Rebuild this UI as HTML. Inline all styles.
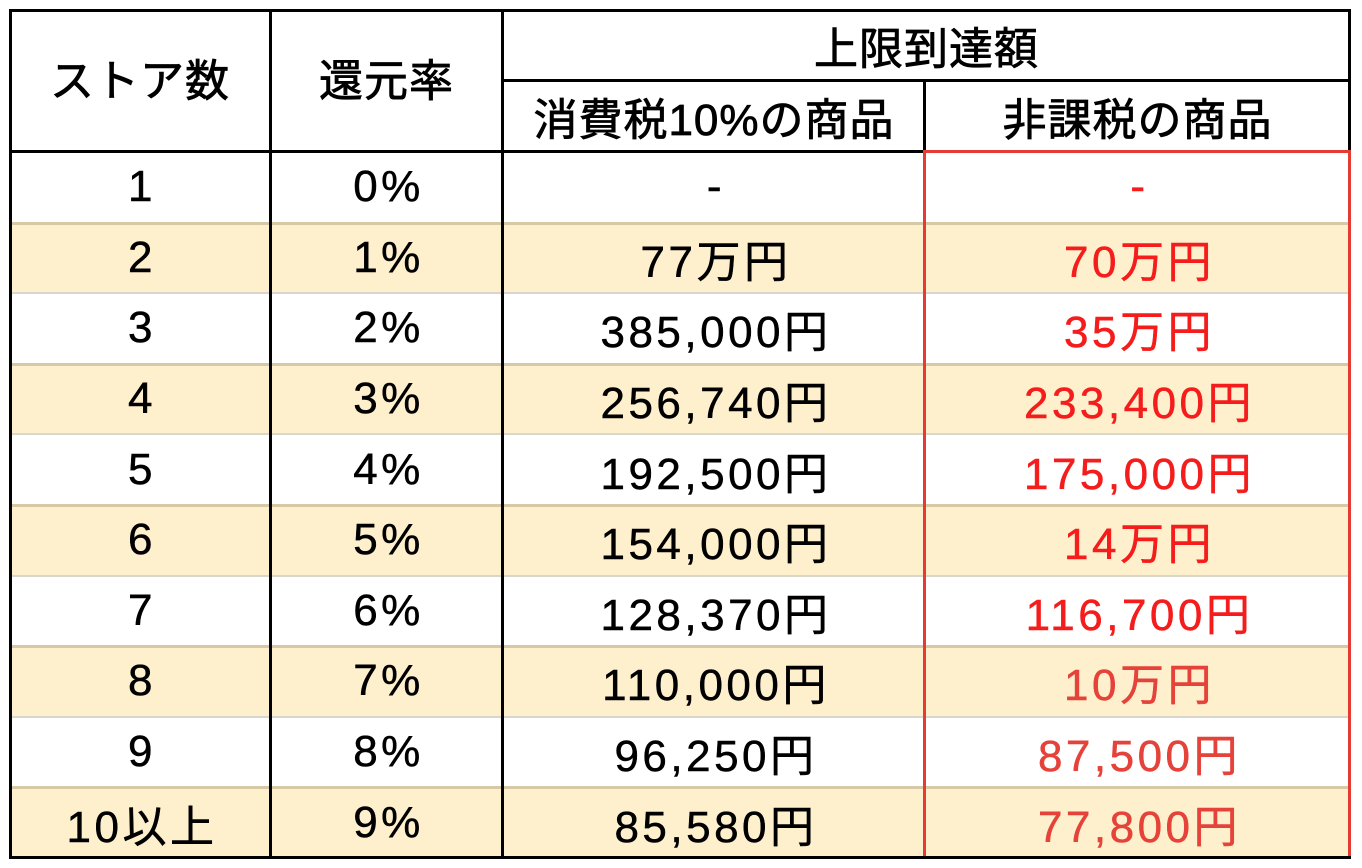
<!DOCTYPE html>
<html><head><meta charset="utf-8"><style>
body{margin:0;width:1362px;height:868px;background:#fff;overflow:hidden;font-family:"Liberation Sans","Noto Sans CJK JP",sans-serif;}
.a{position:absolute;}
.t{position:absolute;display:flex;align-items:center;justify-content:center;font-size:44px;letter-spacing:3.5px;color:#000;-webkit-text-stroke:0.5px currentColor;}
.h{font-size:44px;letter-spacing:1px;-webkit-text-stroke:0.8px currentColor;}
.r{color:#f51c1c;}
.r2{color:#e5423a;}
</style></head><body>
<div id="c"></div>
<script>
var c=document.getElementById('c');var s='';
function box(x,y,w,h,bg){s+='<div class="a" style="left:'+x+'px;top:'+y+'px;width:'+w+'px;height:'+h+'px;background:'+bg+'"></div>';}
function txt(x,y,w,h,t,cl){s+='<div class="t '+(cl||'')+'" style="left:'+x+'px;top:'+y+'px;width:'+w+'px;height:'+h+'px">'+t+'</div>';}
var data=[["1","0%","-","-","r"],["2","1%","77万円","70万円","r"],["3","2%","385,000円","35万円","r"],["4","3%","256,740円","233,400円","r"],["5","4%","192,500円","175,000円","r"],["6","5%","154,000円","14万円","r"],["7","6%","128,370円","116,700円","r"],["8","7%","110,000円","10万円","r2"],["9","8%","96,250円","87,500円","r2"],["10以上","9%","85,580円","77,800円","r2"]];
var top0=152,rh=70.6;
for(var i=0;i<10;i++){
 var y=top0+i*rh;
 if(i%2==1){box(10,y,1340,rh,'#fef0cc');box(10,y-1,1340,3,'#d8c9a6');box(10,y+rh-1,1340,2,'#d9d6cc');}
}
for(var i=0;i<10;i++){
 var y=top0+i*rh,d=data[i];
 txt(12,y,260,rh,d[0]);txt(272,y,233,rh,d[1]);txt(505,y,422,rh,d[2]);txt(927,y,425,rh,d[3],d[4]);
}
box(9,9,1342,3,'#000');box(9,856,1342,3,'#000');box(9,9,3,850,'#000');box(1348,9,3,150,'#000');
box(269,9,3,850,'#000');box(501,9,3,850,'#000');
box(501,79,850,3,'#000');box(923,79,3,73,'#000');
box(9,150,916,3,'#000');
box(923,150,428,3,'#e53b33');box(923,150,3,706,'#e53b33');box(1348,150,3,706,'#e53b33');
txt(10,6,260,141,'ストア数','h');txt(270,6,233,141,'還元率','h');
txt(503,10,847,70,'上限到達額','h');
txt(503,80,422,71,'消費税10%の商品','h');txt(925,80,425,71,'非課税の商品','h');
c.innerHTML=s;
</script>
</body></html>
